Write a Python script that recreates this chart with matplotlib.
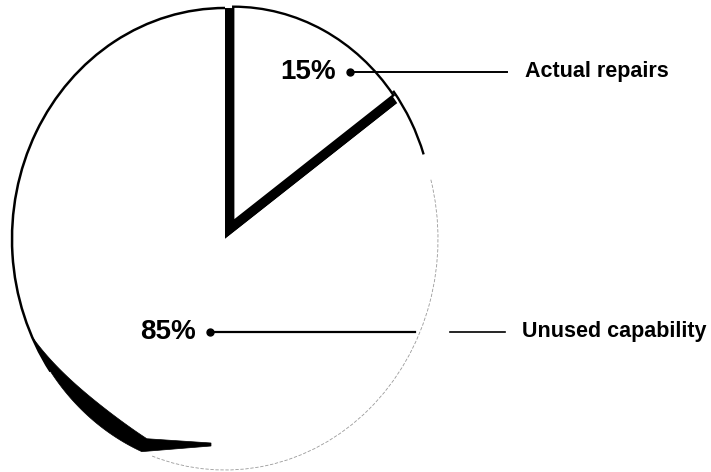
import numpy as np
import matplotlib
matplotlib.use("Agg")
import matplotlib.pyplot as plt
from matplotlib.patches import Arc, Polygon

# data
shares = [15, 85]
pct_labels = ["15%", "85%"]
categories = ["Actual repairs", "Unused capability"]

plt.rcParams["font.family"] = ["Liberation Sans", "DejaVu Sans"]

W, H = 711, 472
# pixel position of the pie centre and its x / y radius in the scan
CX, CY, SX, SY = 225, 239, 213, 231


def px(x, y):
    # pixel (top-left origin) -> data units, pie radius = 1
    return (x - CX) / SX, (CY - y) / SY


fig = plt.figure(figsize=(W / 100, H / 100), dpi=100)
ax = fig.add_axes([0, 0, 1, 1])

# black copy of the small slice left in place -> shows as the thick shadow
ax.pie(shares, startangle=90, counterclock=False, radius=1,
       colors=["black", "none"], wedgeprops=dict(linewidth=0))

# the real pie, small slice pulled out
wedges, _ = ax.pie(shares, startangle=90, counterclock=False, radius=1,
                   explode=[0.085, 0], colors=["white", "white"],
                   wedgeprops=dict(linewidth=0))
small = wedges[0]
small.set_radius(0.93)
small.set_edgecolor("black")
small.set_linewidth(1.7)
small.set_zorder(3)

# outline of the big slice: heavy on the left, faint on the right
ax.add_patch(Arc((0, 0), 2, 2, theta1=90, theta2=215, color="black", lw=1.8))
ax.add_patch(Arc((0, 0), 2, 2, theta1=250, theta2=375, color="#9a9a9a",
                 lw=0.6, ls=(0, (4, 2))))
# arc of the pulled out slice running on past its edge
cx0, cy0 = small.center
ax.add_patch(Arc((cx0, cy0), 2 * 0.94, 2 * 0.94, theta1=18, theta2=37,
                 color="black", lw=1.7, zorder=4))

# crescent shadow at lower left
th_out = np.radians(np.linspace(205, 247, 40))
th_in = np.radians(np.linspace(247, 205, 40))
r_in = 1 - 0.075 * np.sin(np.pi * (np.degrees(th_in) - 205) / 60)
outer = np.column_stack([np.cos(th_out), np.sin(th_out)])
inner = np.column_stack([r_in * np.cos(th_in), r_in * np.sin(th_in)])
tip = np.array([px(211, 446), px(211, 443)])
ax.add_patch(Polygon(np.vstack([outer, tip, inner]), closed=True,
                     facecolor="black", edgecolor="black", lw=0.5, zorder=2))

# leader lines and labels
lab_y = [72, 332]
ax.plot(*zip(px(350, 72), px(507, 72)), color="black", lw=1.4, zorder=5)
ax.plot(*px(350, 72), "o", color="black", ms=5, zorder=5)
ax.plot(*zip(px(210, 332), px(415, 332)), color="black", lw=1.6, zorder=5)
ax.plot(*px(210, 332), "o", color="black", ms=5, zorder=5)
ax.plot(*zip(px(450, 332), px(505, 332)), color="black", lw=1.2, zorder=5)

pct_x = [336, 196]
cat_x = [525, 522]
for i in range(len(shares)):
    ax.text(*px(pct_x[i], lab_y[i]), pct_labels[i], ha="right", va="center",
            fontsize=20, fontweight="bold", zorder=6)
    ax.text(*px(cat_x[i], lab_y[i]), categories[i], ha="left", va="center",
            fontsize=15.5, fontweight="bold", zorder=6)

ax.set_aspect("auto")
ax.set_xlim(px(0, 0)[0], px(W, 0)[0])
ax.set_ylim(px(0, H)[1], px(0, 0)[1])
ax.axis("off")

fig.savefig("out.png", dpi=100, facecolor="white")
